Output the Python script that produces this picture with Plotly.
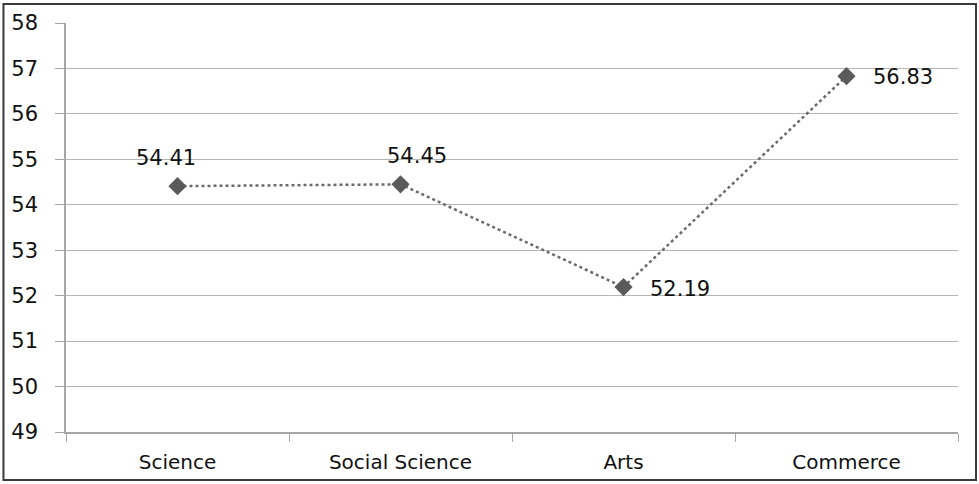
import plotly.graph_objects as go

# Mean scores by stream
streams = ["Science", "Social Science", "Arts", "Commerce"]
scores = [54.41, 54.45, 52.19, 56.83]
y_ticks = list(range(49, 59))

# label offsets (px) relative to each point
label_dx = [-12, 16, 56, 56]
label_dy = [28, 28, -2, -1]

fig = go.Figure()
fig.add_trace(go.Scatter(
    x=streams, y=scores, mode="lines+markers",
    line=dict(color="#6b6b6b", width=2.5, dash="dot"),
    marker=dict(symbol="diamond", size=14, color="#5a5a5a"),
    showlegend=False, hoverinfo="skip",
))

for s, v, dx, dy in zip(streams, scores, label_dx, label_dy):
    fig.add_annotation(x=s, y=v, text=f"{v:.2f}", showarrow=False,
                       xshift=dx, yshift=dy,
                       font=dict(family="DejaVu Sans", size=21, color="#111"))

# outer frame around the whole chart
fig.add_shape(type="rect", xref="paper", yref="paper",
              x0=-0.0701, x1=1.0202, y0=-0.1174, y1=1.0465,
              line=dict(color="#3a3a3a", width=2), layer="below")

fig.update_layout(
    width=979, height=484,
    margin=dict(l=66, r=21, t=23, b=52),
    paper_bgcolor="white", plot_bgcolor="white",
    font=dict(family="DejaVu Sans", color="#111"),
)
fig.update_xaxes(
    type="category", range=[-0.5, 3.5], automargin=False,
    showline=True, linecolor="#a6a6a6", linewidth=1.5,
    ticks="outside", tickson="boundaries", ticklen=8, tickcolor="#a6a6a6",
    showgrid=False, tickfont=dict(size=20), ticklabelstandoff=11,
)
fig.update_yaxes(
    range=[49, 58], tickvals=y_ticks, showline=True, linecolor="#a6a6a6",
    linewidth=1.5, showgrid=True, gridcolor="#b5b5b5", gridwidth=1,
    ticks="outside", ticklen=9, tickcolor="#a6a6a6", automargin=False,
    tickfont=dict(size=21), ticklabelstandoff=13, zeroline=False,
)

fig.write_html("out.html")
